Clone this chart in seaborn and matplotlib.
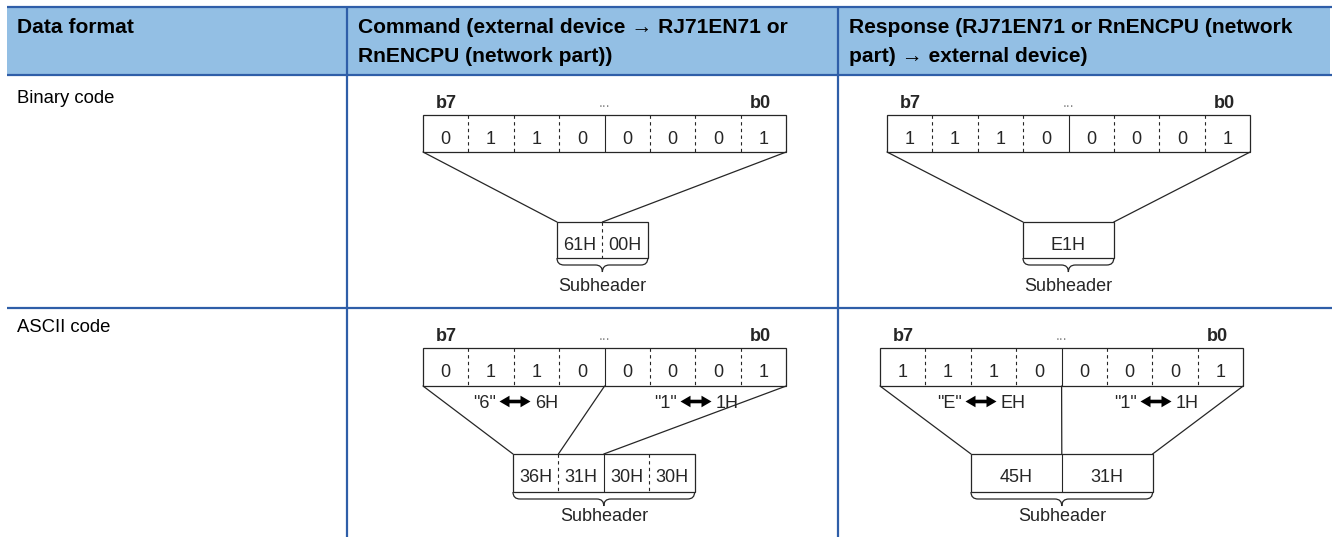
import numpy as np
import matplotlib
matplotlib.use("Agg")
import matplotlib.pyplot as plt
import seaborn as sns
from matplotlib.path import Path
from matplotlib.patches import PathPatch, Rectangle, Polygon

# Contenido de la tabla
header_lines = [
    ["Data format"],
    ["Command (external device \u2192 RJ71EN71 or", "RnENCPU (network part))"],
    ["Response (RJ71EN71 or RnENCPU (network", "part) \u2192 external device)"],
]
row_labels = ["Binary code", "ASCII code"]

cmd_bits = [0, 1, 1, 0, 0, 0, 0, 1]
resp_bits = [1, 1, 1, 0, 0, 0, 0, 1]

bin_cmd_sub = ["61H", "00H"]
bin_resp_sub = ["E1H"]
ascii_cmd_sub = ["36H", "31H", "30H", "30H"]
ascii_resp_sub = ["45H", "31H"]

ascii_cmd_notes = [('"6"', "6H"), ('"1"', "1H")]
ascii_resp_notes = [('"E"', "EH"), ('"1"', "1H")]

sns.set_theme(style="white")
plt.rcParams["font.family"] = ["Liberation Sans", "DejaVu Sans"]

BLUE = "#2f5ea8"
FILL = "#93bfe4"
INK = "#262626"
PT = 0.72  # px -> pt a 100 dpi
CELL = 45.4

fig = plt.figure(figsize=(13.32, 5.37), dpi=100)
ax = fig.add_axes([0, 0, 1, 1])
ax.set_xlim(0, 1332)
ax.set_ylim(537, 0)
ax.axis("off")

#_______________________________________________________________________________
# Tabla
ax.add_patch(Rectangle((7, 7), 1323, 68, facecolor=FILL, edgecolor="none"))
for y in [7, 75, 308]:
    ax.plot([7, 1332], [y, y], color=BLUE, lw=1.6, solid_capstyle="butt")
for x in [347, 838]:
    ax.plot([x, x], [7, 537], color=BLUE, lw=1.6, solid_capstyle="butt")

col_x = [17, 358, 849]
for cx, lines in zip(col_x, header_lines):
    for i, line in enumerate(lines):
        ax.text(cx, 33 + 29 * i, line, fontsize=21 * PT, fontweight="bold",
                color="black", va="baseline", ha="left")

for y, lab in zip([103, 332], row_labels):
    ax.text(17, y, lab, fontsize=18.5 * PT, color="black", va="baseline", ha="left")


#_______________________________________________________________________________
def draw_bits(x0, top, bits, h=37):
    w = CELL * len(bits)
    ax.add_patch(Rectangle((x0, top), w, h, facecolor="none", edgecolor=INK, lw=0.9))
    for i in range(1, len(bits)):
        xi = x0 + i * CELL
        ls = "-" if i == 4 else (0, (3, 3))
        ax.plot([xi, xi], [top, top + h], color=INK, lw=0.8, linestyle=ls)
    for i, b in enumerate(bits):
        ax.text(x0 + (i + 0.5) * CELL, top + 29, str(b), fontsize=18 * PT,
                color=INK, ha="center", va="baseline")
    ax.text(x0 + 13, top - 7, "b7", fontsize=18 * PT, fontweight="bold",
            color=INK, ha="left", va="baseline")
    ax.text(x0 + w - 15, top - 7, "b0", fontsize=18 * PT, fontweight="bold",
            color=INK, ha="right", va="baseline")
    ax.text(x0 + w / 2, top - 8, "...", fontsize=14 * PT, color="#888888",
            ha="center", va="baseline")
    return x0 + w, top + h


def draw_brace(x0, x1, y0, h):
    xm = (x0 + x1) / 2
    r = h / 2
    verts = [(x0, y0), (x0, y0 + r), (x0 + r, y0 + r),
             (xm - r, y0 + r), (xm, y0 + r), (xm, y0 + h),
             (xm, y0 + r), (xm + r, y0 + r),
             (x1 - r, y0 + r), (x1, y0 + r), (x1, y0)]
    codes = [Path.MOVETO, Path.CURVE3, Path.CURVE3,
             Path.LINETO, Path.CURVE3, Path.CURVE3,
             Path.CURVE3, Path.CURVE3,
             Path.LINETO, Path.CURVE3, Path.CURVE3]
    ax.add_patch(PathPatch(Path(verts, codes), facecolor="none", edgecolor=INK, lw=0.9))


def draw_sub(x0, top, values, cell_w, styles, h, label_gap):
    w = cell_w * len(values)
    ax.add_patch(Rectangle((x0, top), w, h, facecolor="white", edgecolor=INK, lw=0.9, zorder=3))
    for i in range(1, len(values)):
        xi = x0 + i * cell_w
        ax.plot([xi, xi], [top, top + h], color=INK, lw=0.8, linestyle=styles[i - 1], zorder=4)
    for i, v in enumerate(values):
        ax.text(x0 + (i + 0.5) * cell_w, top + 28, v, fontsize=18 * PT,
                color=INK, ha="center", va="baseline", zorder=5)
    draw_brace(x0, x0 + w, top + h, 14)
    ax.text(x0 + w / 2, top + h + label_gap, "Subheader", fontsize=18 * PT,
            color=INK, ha="center", va="baseline")


def draw_arrow(cx, cy, half=15.5, head=10, hh=5.8, sh=1.8):
    pts = [(cx - half, cy), (cx - half + head, cy - hh), (cx - half + head, cy - sh),
           (cx + half - head, cy - sh), (cx + half - head, cy - hh), (cx + half, cy),
           (cx + half - head, cy + hh), (cx + half - head, cy + sh),
           (cx - half + head, cy + sh), (cx - half + head, cy + hh)]
    ax.add_patch(Polygon(pts, closed=True, facecolor="black", edgecolor="none"))


def draw_note(cx, base, pair):
    draw_arrow(cx, base - 6.5)
    ax.text(cx - 19, base, pair[0], fontsize=18 * PT, color=INK, ha="right", va="baseline")
    ax.text(cx + 20, base, pair[1], fontsize=18 * PT, color=INK, ha="left", va="baseline")


def seg(p, q):
    ax.plot([p[0], q[0]], [p[1], q[1]], color=INK, lw=0.9)


#_______________________________________________________________________________
# Binary code, command
xr, yb = draw_bits(423, 115, cmd_bits)
seg((423, yb), (557, 222))
seg((xr, yb), (557 + CELL, 222))
draw_sub(557, 222, bin_cmd_sub, CELL, [(0, (3, 3))], 36, 33)

# Binary code, response
xr, yb = draw_bits(887, 115, resp_bits)
seg((887, yb), (1023, 222))
seg((xr, yb), (1023 + 2 * CELL, 222))
draw_sub(1023, 222, bin_resp_sub, 2 * CELL, [], 36, 33)

# ASCII code, command
xr, yb = draw_bits(423, 348, cmd_bits, h=38)
seg((423, yb), (513, 454))
seg((423 + 4 * CELL, yb), (513 + CELL, 454))
seg((xr, yb), (513 + 2 * CELL, 454))
draw_sub(513, 454, ascii_cmd_sub, CELL, [(0, (3, 3)), "-", (0, (3, 3))], 38, 29)
for cx, pair in zip([515, 696], ascii_cmd_notes):
    draw_note(cx, 408, pair)

# ASCII code, response
xr, yb = draw_bits(880, 348, resp_bits, h=38)
seg((880, yb), (971, 454))
seg((880 + 4 * CELL, yb), (971 + 2 * CELL, 454))
seg((xr, yb), (971 + 4 * CELL, 454))
draw_sub(971, 454, ascii_resp_sub, 2 * CELL, ["-"], 38, 29)
for cx, pair in zip([981, 1156], ascii_resp_notes):
    draw_note(cx, 408, pair)

fig.savefig("out.png", dpi=100)
